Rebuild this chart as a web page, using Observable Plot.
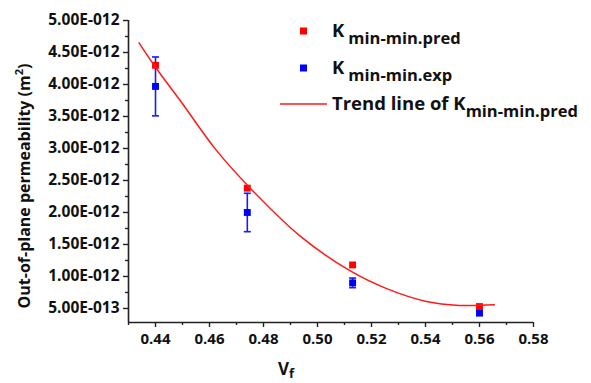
<!DOCTYPE html>
<html>
<head>
<meta charset="utf-8">
<script src="https://cdn.jsdelivr.net/npm/d3@7"></script>
<script src="https://cdn.jsdelivr.net/npm/@observablehq/plot@0.6"></script>
<style>
  html, body { margin: 0; padding: 0; background: #fff; }
  #chart svg { display: block; }
</style>
</head>
<body>
<div id="chart"></div>
<script>
// Values in units of 1E-012 m^2
const vf = [0.44, 0.474, 0.513, 0.56];
const kPred = [4.30, 2.38, 1.18, 0.53];
const kExp = [3.97, 2.00, 0.90, 0.43];
const kExpErr = [0.46, 0.30, 0.075, 0.04];

const trendVf = [0.4339, 0.44, 0.45, 0.4622, 0.4751, 0.4936, 0.512, 0.5256, 0.5403, 0.5526, 0.5655];
const trendK  = [4.65, 4.27, 3.70, 2.99, 2.38, 1.63, 1.09, 0.81, 0.61, 0.548, 0.557];

const xTicks = [0.44, 0.46, 0.48, 0.50, 0.52, 0.54, 0.56, 0.58];
const xMinor = [0.43, 0.45, 0.47, 0.49, 0.51, 0.53, 0.55, 0.57];
const yTicks = [0.5, 1.0, 1.5, 2.0, 2.5, 3.0, 3.5, 4.0, 4.5, 5.0];
const yMinor = [0.75, 1.25, 1.75, 2.25, 2.75, 3.25, 3.75, 4.25, 4.75];

const xDomain = [0.43, 0.58];
const yDomain = [0.281, 5.0];

const pred = vf.map((x, i) => ({x, y: kPred[i]}));
const exp = vf.map((x, i) => ({x, y: kExp[i], lo: kExp[i] - kExpErr[i], hi: kExp[i] + kExpErr[i]}));
const trend = trendVf.map((x, i) => ({x, y: trendK[i]}));

const fmtY = v => v < 1 ? (v * 10).toFixed(2) + "E-013" : v.toFixed(2) + "E-012";
const capSymbol = { draw(ctx, size) { const w = 3.5; ctx.moveTo(-w, 0); ctx.lineTo(w, 0); } };

const font = "'Open Sans', sans-serif";
const axisColor = "#222";

const chart = Plot.plot({
  width: 591,
  height: 383,
  marginLeft: 128,
  marginRight: 58,
  marginTop: 20,
  marginBottom: 61,
  style: { fontFamily: font, fontWeight: "bold", fontSize: "15.5px", background: "#fff", color: "#111" },
  x: { domain: xDomain, type: "linear" },
  y: { domain: yDomain, type: "linear" },
  marks: [
    Plot.axisY({ticks: yTicks, tickSize: 5, tickPadding: 4, tickFormat: fmtY, label: null, strokeWidth: 1.4, stroke: axisColor, fontSize: 15.5}),
    Plot.axisY({ticks: yMinor, tickSize: 3, tickFormat: () => "", label: null, strokeWidth: 1.4, stroke: axisColor}),
    Plot.axisX({ticks: xTicks, tickSize: 5, tickPadding: 6, tickFormat: d3.format(".2f"), label: null, strokeWidth: 1.4, stroke: axisColor, fontSize: 15}),
    Plot.axisX({ticks: xMinor, tickSize: 3, tickFormat: () => "", label: null, strokeWidth: 1.4, stroke: axisColor}),
    Plot.ruleX([xDomain[0]], {stroke: axisColor, strokeWidth: 1.6}),
    Plot.ruleY([yDomain[0]], {stroke: axisColor, strokeWidth: 1.6}),
    Plot.ruleX(exp, {x: "x", y1: "lo", y2: "hi", stroke: "#1a1aff", strokeWidth: 1.6}),
    Plot.dot(exp, {x: "x", y: "lo", symbol: capSymbol, stroke: "#1a1aff", strokeWidth: 1.6, r: 3}),
    Plot.dot(exp, {x: "x", y: "hi", symbol: capSymbol, stroke: "#1a1aff", strokeWidth: 1.6, r: 3}),
    Plot.dot(exp, {x: "x", y: "y", symbol: "square", fill: "#0000ff", r: 3.9}),
    Plot.dot(pred, {x: "x", y: "y", symbol: "square", fill: "#ff0000", r: 3.9}),
    Plot.line(trend, {x: "x", y: "y", stroke: "#ff1a1a", strokeWidth: 1.5, curve: "catmull-rom"})
  ]
});

document.getElementById("chart").appendChild(chart);

// Labels and legend
const svg = d3.select(chart);
const g = svg.append("g")
  .attr("font-family", font)
  .attr("font-weight", "bold")
  .attr("fill", "#111")
  .attr("text-anchor", "start");

// Y axis title
const yt = g.append("text")
  .attr("transform", "translate(30,186) rotate(-90)")
  .attr("text-anchor", "middle")
  .attr("font-size", 16);
yt.append("tspan").text("Out-of-plane permeability (m");
yt.append("tspan").attr("font-size", 11).attr("dy", -7).text("2");
yt.append("tspan").attr("dy", 7).text(")");

// X axis title
const xt = g.append("text").attr("x", 278).attr("y", 375).attr("font-size", 17);
xt.append("tspan").text("V");
xt.append("tspan").attr("font-size", 13).attr("dy", 3).text("f");

// Legend
const legendRows = [
  {type: "sq", color: "#ff0000", main: "K", sub: "min-min.pred", y: 37},
  {type: "sq", color: "#0000ff", main: "K", sub: "min-min.exp", y: 74},
  {type: "line", color: "#ff1a1a", main: "Trend line of K", sub: "min-min.pred", y: 110}
];
legendRows.forEach(r => {
  if (r.type === "sq") {
    g.append("rect").attr("x", 300).attr("y", r.y - 9.5).attr("width", 7).attr("height", 7).attr("fill", r.color);
  } else {
    g.append("line").attr("x1", 280).attr("x2", 327).attr("y1", r.y - 6).attr("y2", r.y - 6)
      .attr("stroke", r.color).attr("stroke-width", 1.5);
  }
  const t = g.append("text").attr("x", 332).attr("y", r.y).attr("font-size", 18.5);
  t.append("tspan").text(r.main);
  t.append("tspan").attr("font-size", 16.5).attr("dy", 7).attr("dx", r.type === "sq" ? 4 : 0).text(r.sub);
});
</script>
</body>
</html>
